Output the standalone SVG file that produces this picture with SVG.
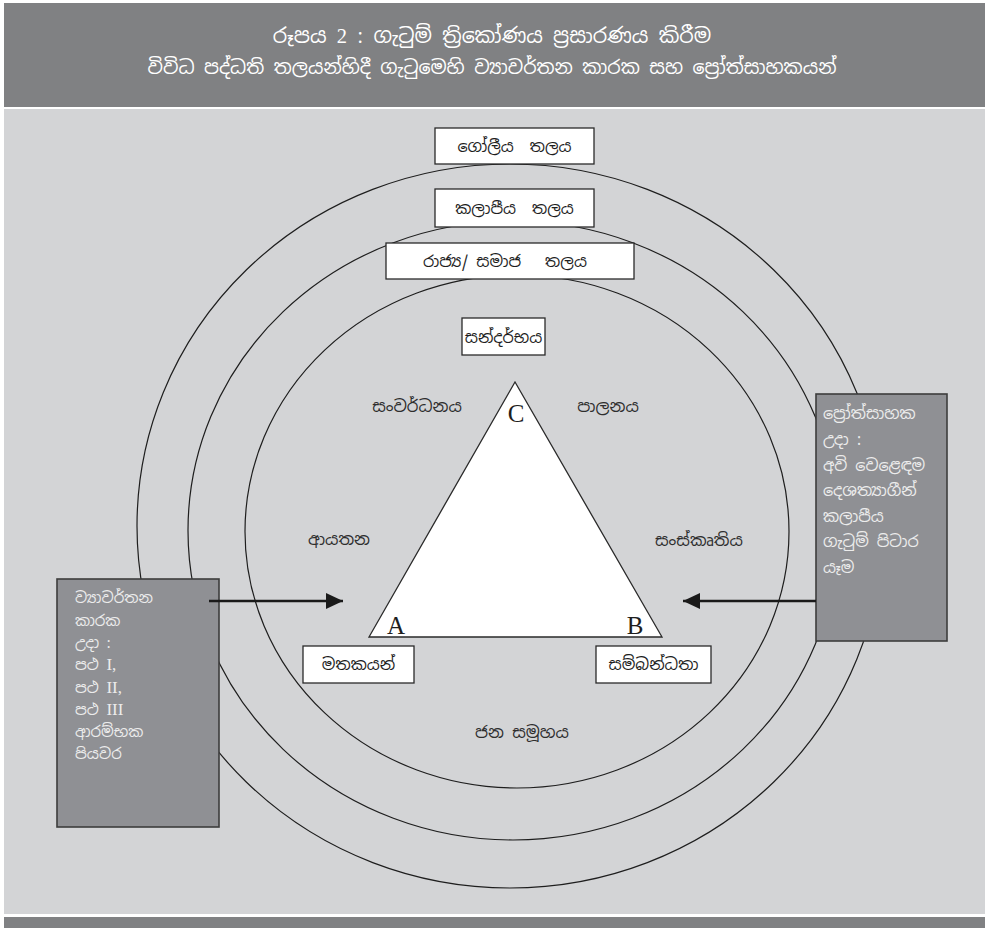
<svg xmlns="http://www.w3.org/2000/svg" width="985" height="928" viewBox="0 0 985 928">
<defs>
<style>
.si{font-family:"Noto Sans Sinhala","Noto Sans","DejaVu Sans",sans-serif;}
.lat{font-family:"Liberation Serif","Times New Roman",serif;}
.hdr{fill:#ffffff;font-size:19px;text-anchor:middle;}
.h1{font-size:20.5px;}
.box{fill:#ffffff;stroke:#2a2a2a;stroke-width:1.3;}
.dbox{fill:#8f9094;stroke:#3c3c3c;stroke-width:1.6;}
.ring{fill:none;stroke:#1e1e1e;stroke-width:1.2;}
.bt{fill:#1e1e1e;font-size:16px;text-anchor:middle;}
.lbl{fill:#2e2e2e;font-size:16.5px;text-anchor:middle;}
.wt{fill:#ececec;font-size:15px;}
.wr{fill:#ececec;font-size:16px;}
.rom{font-size:17px;}
.vtx{fill:#1e1e1e;font-size:25px;}
.arr{stroke:#1a1a1a;stroke-width:2.6;fill:none;}
</style>
<marker id="ah" markerUnits="userSpaceOnUse" markerWidth="17" markerHeight="16" refX="17" refY="8" orient="auto">
<path d="M0,0 L17,8 L0,16 z" fill="#1a1a1a"/>
</marker>
</defs>

<rect x="0" y="0" width="985" height="928" fill="#ffffff"/>
<g id="header">
<rect x="4" y="3" width="981" height="104" fill="#808183"/>
<text class="si hdr h1" x="492" y="43">රූපය <tspan class="lat">2</tspan> : ගැටුම් ත්‍රිකෝණය ප්‍රසාරණය කිරීම</text>
<text class="si hdr" x="492" y="74">විවිධ පද්ධති තලයන්හිදී ගැටුමෙහි ව්‍යාවර්තන කාරක සහ ප්‍රෝත්සාහකයන්</text>
</g>
<rect id="panel" x="4" y="109" width="981" height="805" fill="#d3d4d6"/>
<rect id="footer" x="4" y="917" width="981" height="11" fill="#808183"/>

<g id="rings">
<ellipse id="ring-global" class="ring" cx="510" cy="526" rx="373" ry="362"/>
<ellipse id="ring-regional" class="ring" cx="513" cy="530.5" rx="325" ry="309.5"/>
<ellipse id="ring-state" class="ring" cx="517" cy="531.5" rx="272" ry="256.5"/>
</g>

<g id="node-global">
<rect class="box" x="435" y="128" width="159" height="36"/>
<text class="si bt" x="514.5" y="152" xml:space="preserve">ගෝලීය  තලය</text>
</g>
<g id="node-regional">
<rect class="box" x="435" y="189" width="159" height="38"/>
<text class="si bt" x="514.5" y="214" xml:space="preserve">කලාපීය  තලය</text>
</g>
<g id="node-state">
<rect class="box" x="386" y="243" width="248" height="36"/>
<text class="si bt" x="505" y="267" xml:space="preserve">රාජ්‍ය/ සමාජ   තලය</text>
</g>
<g id="node-context">
<rect class="box" x="462" y="318" width="83" height="37"/>
<text class="si bt" x="503.5" y="343">සන්දර්භය</text>
</g>

<g id="triangle">
<polygon points="515,382 369,637 662,637" fill="#ffffff" stroke="#2a2a2a" stroke-width="1.3"/>
<text class="lat vtx" x="516" y="422" text-anchor="middle">C</text>
<text class="lat vtx" x="396" y="634" text-anchor="middle">A</text>
<text class="lat vtx" x="635" y="634" text-anchor="middle">B</text>
</g>

<g id="labels">
<text class="si lbl" x="417" y="412">සංවර්ධනය</text>
<text class="si lbl" x="608" y="412">පාලනය</text>
<text class="si lbl" x="339" y="545">ආයතන</text>
<text class="si lbl" x="699" y="546">සංස්කෘතිය</text>
<text class="si lbl" x="522" y="738" xml:space="preserve">ජන සමූහය</text>
</g>

<g id="node-memories">
<rect class="box" x="303" y="646" width="111" height="37"/>
<text class="si bt" x="358.5" y="670">මතකයන්</text>
</g>
<g id="node-relations">
<rect class="box" x="596" y="646" width="115" height="37"/>
<text class="si bt" x="653.5" y="670">සම්බන්ධතා</text>
</g>

<g id="node-transformers">
<rect class="dbox" x="57" y="579" width="162" height="248"/>
<text class="si wt" x="75" y="603">ව්‍යාවර්තන</text>
<text class="si wt" x="75" y="626">කාරක</text>
<text class="si wt" x="75" y="648">උදා :</text>
<text class="si wt" x="75" y="670">පථ <tspan class="lat rom">I,</tspan></text>
<text class="si wt" x="75" y="693">පථ <tspan class="lat rom">II,</tspan></text>
<text class="si wt" x="75" y="715">පථ <tspan class="lat rom">III</tspan></text>
<text class="si wt" x="75" y="737">ආරම්භක</text>
<text class="si wt" x="75" y="759">පියවර</text>
</g>

<g id="node-promoters">
<rect class="dbox" x="816" y="394" width="131" height="247"/>
<text class="si wr" x="823" y="419">ප්‍රෝත්සාහක</text>
<text class="si wr" x="823" y="445">උදා :</text>
<text class="si wr" x="823" y="471">අවි වෙළෙඳම</text>
<text class="si wr" x="823" y="496">දෙශත්‍යාගීන්</text>
<text class="si wr" x="823" y="522">කලාපීය</text>
<text class="si wr" x="823" y="547">ගැටුම් පිටාර</text>
<text class="si wr" x="823" y="573">යෑම</text>
</g>

<g id="connectors">
<line class="arr" x1="209" y1="601" x2="343" y2="601" marker-end="url(#ah)"/>
<line class="arr" x1="816" y1="601" x2="683" y2="601" marker-end="url(#ah)"/>
</g>
</svg>
